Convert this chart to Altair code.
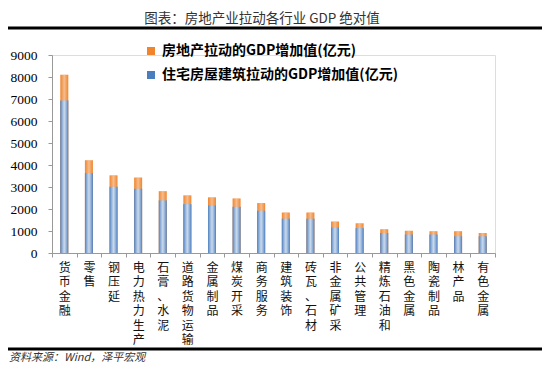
import altair as alt
import pandas as pd

categories = ["货币金融", "零售", "钢压延", "电力热力生产", "石膏、水泥", "道路货物运输",
              "金属制品", "煤炭开采", "商务服务", "建筑装饰", "砖瓦、石材", "非金属矿采",
              "公共管理", "精炼石油和", "黑色金属", "陶瓷制品", "林产品", "有色金属"]
real_estate_total = [8100, 4220, 3530, 3430, 2810, 2620, 2530, 2480, 2270, 1840, 1840,
                     1430, 1350, 1080, 1010, 990, 990, 910]
residential = [6930, 3630, 3010, 2920, 2390, 2220, 2160, 2100, 1920, 1560, 1560,
               1160, 1130, 910, 840, 840, 760, 760]
series_names = ["房地产拉动的GDP增加值(亿元)", "住宅房屋建筑拉动的GDP增加值(亿元)"]
y_ticks = [0, 1000, 2000, 3000, 4000, 5000, 6000, 7000, 8000, 9000]

rows = []
for c, v in zip(categories, real_estate_total):
    rows.append({"cat": c, "series": series_names[0], "value": v})
for c, v in zip(categories, residential):
    rows.append({"cat": c, "series": series_names[1], "value": v})
df = pd.DataFrame(rows)

FONT = "Noto Sans CJK SC"

xenc = alt.X("cat:N", sort=categories, title=None,
             scale=alt.Scale(paddingInner=0, paddingOuter=0),
             axis=alt.Axis(labelAngle=0, labelExpr="split(datum.label, '')",
                           labelFont=FONT, labelFontSize=12, labelLineHeight=14.5,
                           labelBaseline="top", labelAlign="center", labelColor="#111",
                           labelPadding=5, tickSize=4, tickBand="extent",
                           labelOverlap=False,
                           domainColor="#999", tickColor="#999"))
yenc = alt.Y("value:Q", title=None, stack=None,
             scale=alt.Scale(domain=[0, 9000], nice=False),
             axis=alt.Axis(values=y_ticks, format="d", grid=False, labelOverlap=False,
                           labelFont="Liberation Serif", labelFontSize=13.5,
                           labelColor="#000", tickSize=4, labelPadding=11,
                           domainColor="#999", tickColor="#999"))

bars = alt.Chart(df).mark_bar(size=8).encode(
    x=xenc, y=yenc,
    color=alt.Color("series:N",
                    scale=alt.Scale(domain=series_names, range=["#F0852D", "#4A7EBF"]),
                    legend=alt.Legend(title=None, orient="none", legendX=92, legendY=-11,
                                      symbolType="square", symbolSize=64,
                                      symbolStrokeWidth=0, labelFont=FONT,
                                      labelFontSize=14, labelFontWeight="bold",
                                      labelColor="#000", labelLimit=400,
                                      rowPadding=10, labelOffset=4))
)

shine = alt.Chart(df).mark_bar(
    size=8,
    fill=alt.Gradient(gradient="linear", x1=0, x2=1, y1=0, y2=0,
                      stops=[alt.GradientStop(offset=0, color="rgba(255,255,255,0)"),
                             alt.GradientStop(offset=0.5, color="rgba(255,255,255,0.45)"),
                             alt.GradientStop(offset=1, color="rgba(255,255,255,0)")])
).encode(x=xenc, y=yenc)

one = pd.DataFrame({"a": [0]})
title = alt.Chart(one).mark_text(text="图表：房地产业拉动各行业 GDP 绝对值", font=FONT,
                                 fontSize=13.5, color="#333", baseline="middle",
                                 align="center").encode(x=alt.value(210), y=alt.value(-36.5))
top_line = alt.Chart(one).mark_rule(color="#000", strokeWidth=3).encode(
    x=alt.value(-44), x2=alt.value(490), y=alt.value(-27))
bottom_line = alt.Chart(one).mark_rule(color="#000", strokeWidth=3).encode(
    x=alt.value(-44), x2=alt.value(490), y=alt.value(294))
source = alt.Chart(one).mark_text(text="资料来源：Wind，泽平宏观", font=FONT, fontSize=11,
                                  fontStyle="italic", color="#333", baseline="middle",
                                  align="left").encode(x=alt.value(-43), y=alt.value(303))

chart = alt.layer(bars, shine, title, top_line, bottom_line, source).properties(
    width=443, height=198,
    autosize=alt.AutoSizeParams(type="none"),
    padding={"left": 44, "top": 47, "right": 47, "bottom": 113},
).configure_view(stroke=None).configure(background="white")

chart.save("out.html", embed_options={"renderer": "svg", "actions": False})
